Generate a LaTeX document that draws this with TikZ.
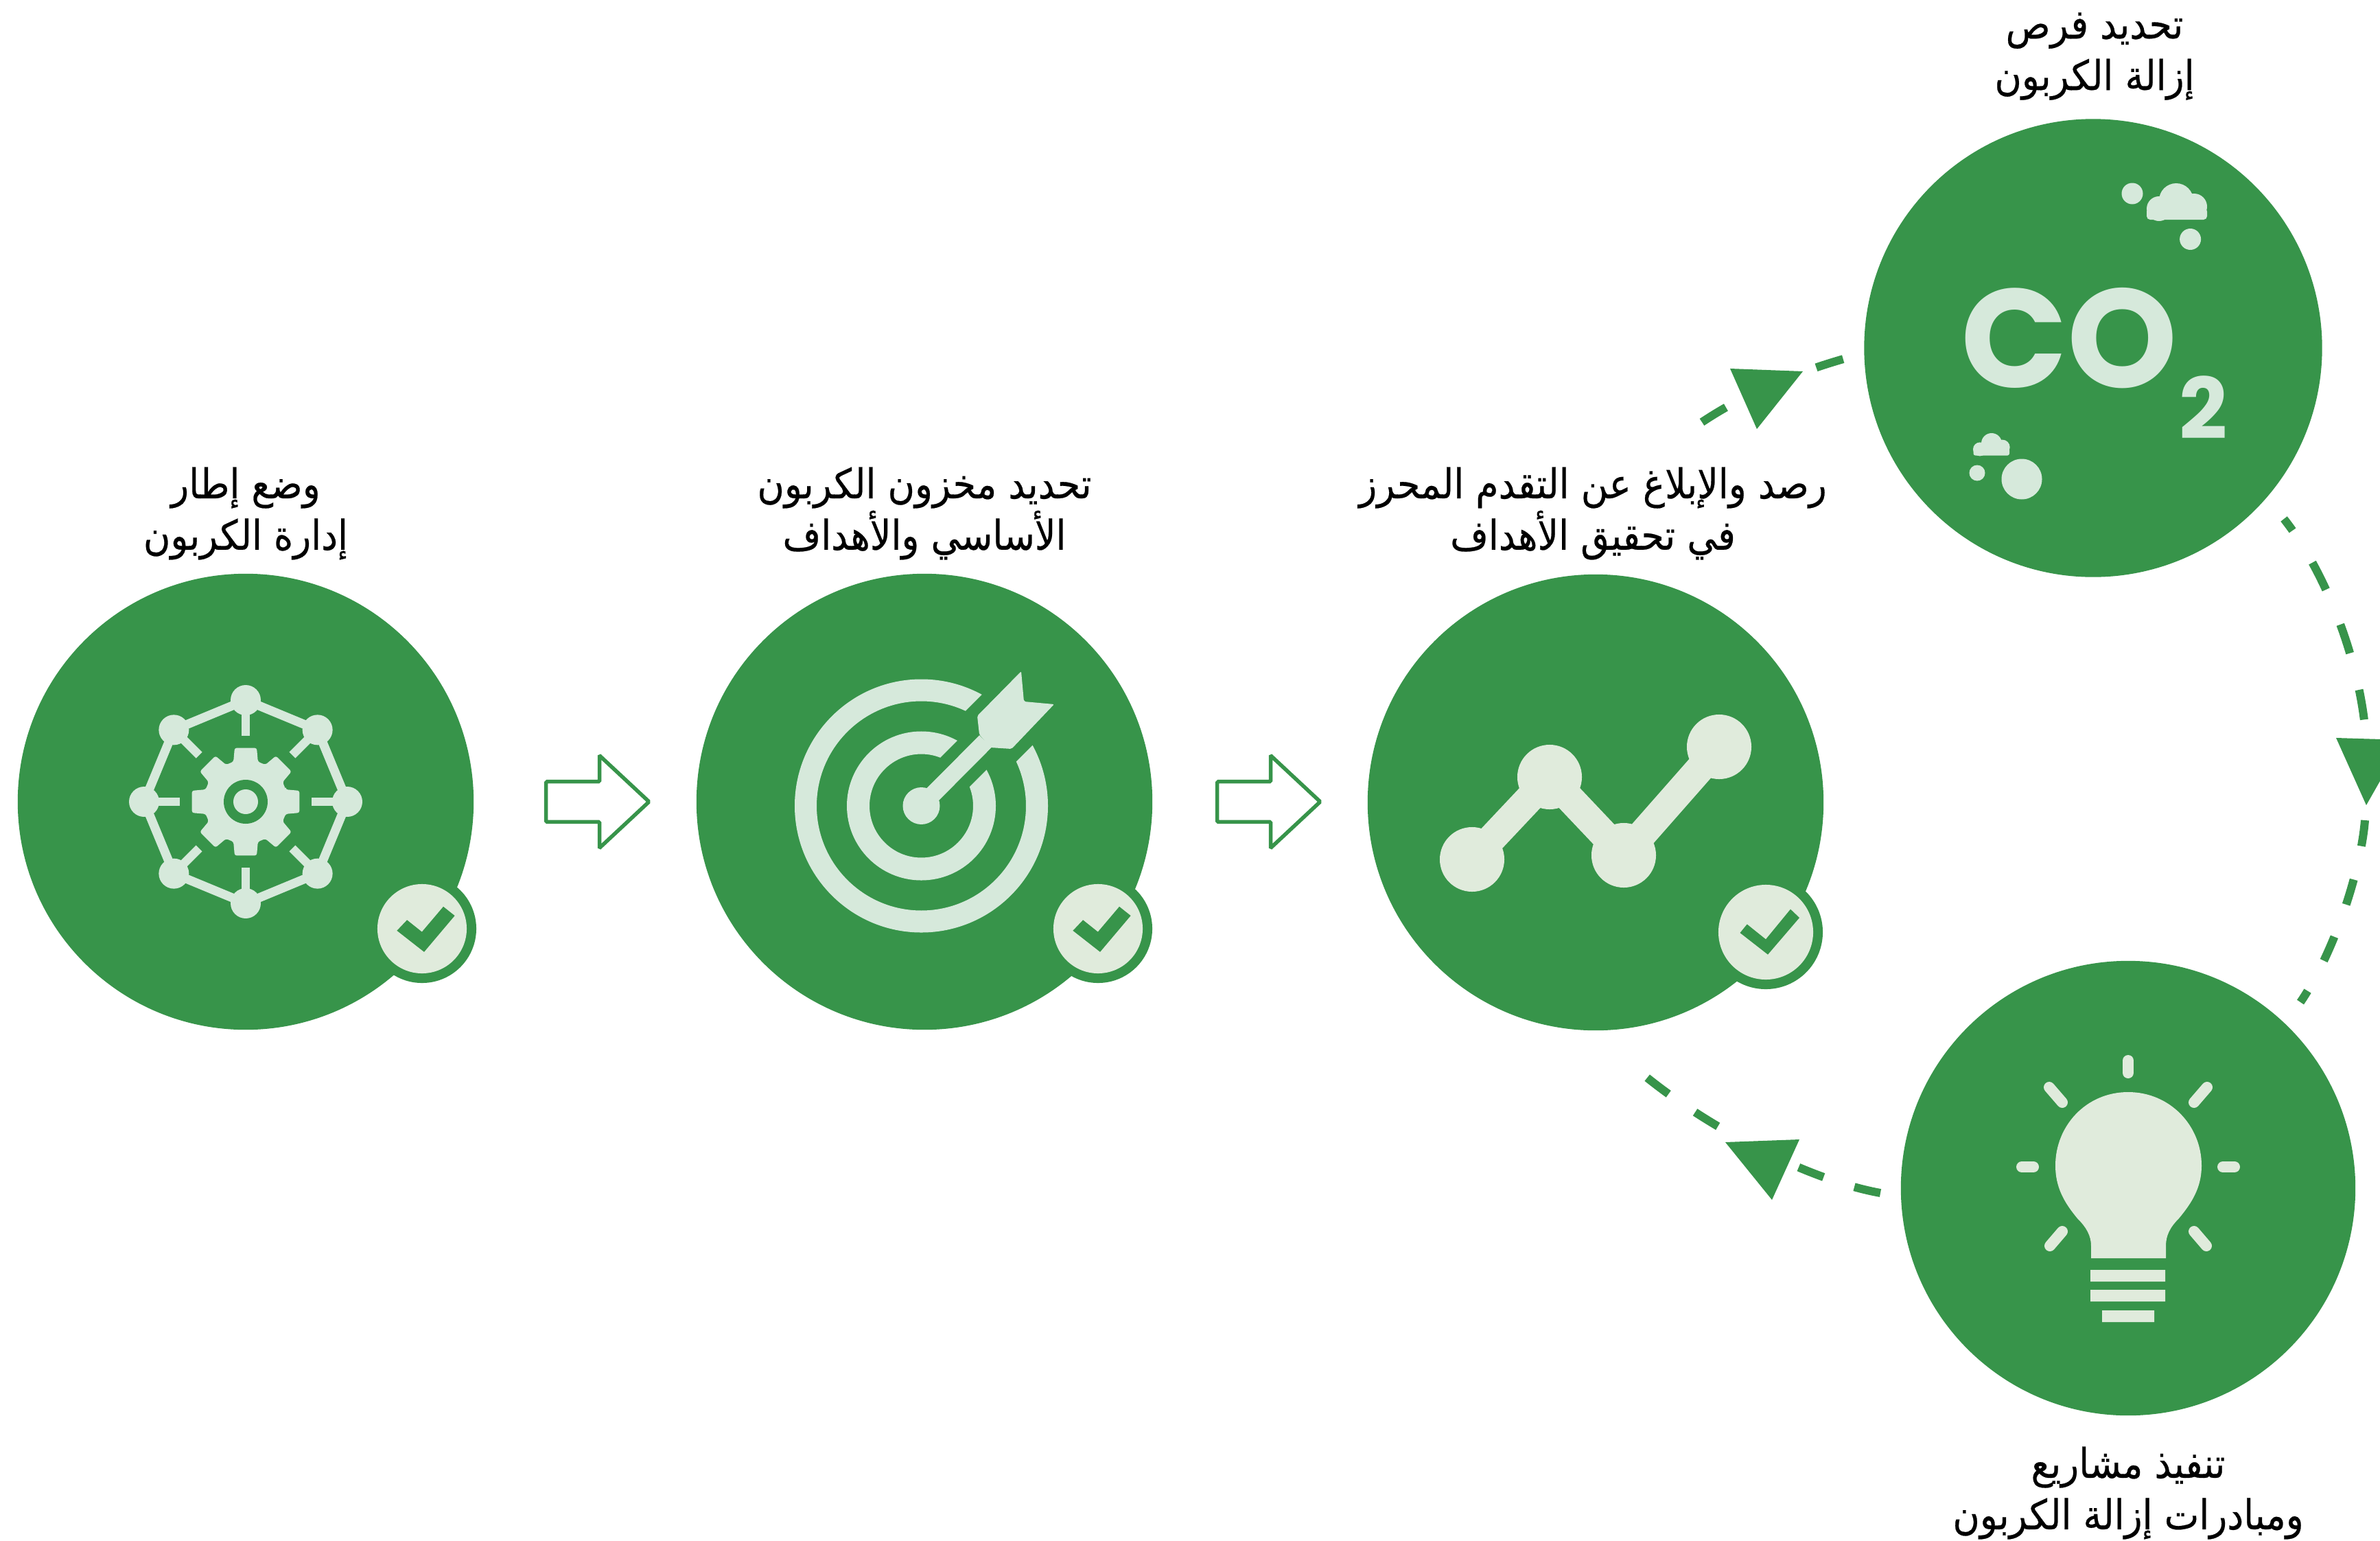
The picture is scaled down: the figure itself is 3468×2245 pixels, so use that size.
\documentclass[tikz,border=0pt]{standalone}
\usepackage{fontspec}
\usetikzlibrary{calc,shapes.arrows}
\TeXXeTstate=1
\newfontfamily\arabicfont[Script=Arabic,FakeStretch=0.9,FakeBold=0.4]{DejaVu Sans}
\newfontfamily\bigfont{Poppins}
\definecolor{leaf}{RGB}{55,148,74}
\definecolor{mist}{RGB}{214,233,219}
\definecolor{pale}{RGB}{224,235,220}

\begin{document}
\begin{tikzpicture}[x=0.01cm,y=-0.01cm]
       \tikzstyle{disc} = [circle, fill=leaf, inner sep=0, minimum size=6.64cm];
       \tikzstyle{ring} = [circle, fill=leaf, inner sep=0, minimum size=1.58cm];
       \tikzstyle{tick} = [circle, fill=pale, inner sep=0, minimum size=1.30cm];
       \tikzstyle{caption} = [align=center, inner sep=0, font=\arabicfont\fontsize{17}{21.3}\selectfont];
       \tikzstyle{hollow} = [single arrow, draw=leaf, line width=0.055cm, rounded corners=0.015cm, inner xsep=0, inner ysep=0.265cm, minimum height=1.5cm, single arrow head extend=0.38cm, single arrow tip angle=86];
       \tikzstyle{dots} = [circle, fill=pale, inner sep=0, minimum size=0.94cm];
       \tikzstyle{ray} = [draw=pale, line width=0.16cm, line cap=round];
       \tikzstyle{flow} = [draw=leaf, line width=0.12cm];

       \useasboundingbox (0,0) rectangle (3468,2245);

       \node[disc] (frame) at (358,1168) {};
       \node[disc] (target) at (1347,1168) {};
       \node[disc] (chart) at (2325,1169) {};
       \node[disc, minimum size=6.67cm] (cotwo) at (3050,507) {};
       \node[disc, minimum size=6.62cm] (bulb) at (3101,1731) {};

       \node[caption] (frametext) at (358,748) {\beginR وضع إطار\endR\\\beginR إدارة الكربون\endR};
       \node[caption] (targettext) at (1347,748) {\beginR تحديد مخزون الكربون\endR\\\beginR الأساسي والأهداف\endR};
       \node[caption] (charttext) at (2321,748) {\beginR رصد والإبلاغ عن التقدم المحرز\endR\\\beginR في تحقيق الأهداف\endR};
       \node[caption] (cotwotext) at (3052,82) {\beginR تحديد فرص\endR\\\beginR إزالة الكربون\endR};
       \node[caption] (bulbtext) at (3101,2175) {\beginR تنفيذ مشاريع\endR\\\beginR ومبادرات إزالة الكربون\endR};

       \node[hollow] (stepa) at (855,1168) {};
       \node[hollow] (stepb) at (1833,1168) {};

       % badges
       \node[ring] (ringa) at (615,1353) {};
       \node[tick] (ticka) at (615,1353) {};
       \node[ring] (ringb) at (1600,1353) {};
       \node[tick] (tickb) at (1600,1353) {};
       \node[ring, minimum size=1.66cm] (ringc) at (2573,1358) {};
       \node[tick, minimum size=1.38cm] (tickc) at (2573,1358) {};
       \foreach \cx in {615,1600}
         \fill[leaf, shift={(\cx,1353)}] (-36.6,2.8) -- (-21.9,-12.7) -- (-0.2,4.6) -- (31,-32.2) -- (47.6,-19) -- (3,33.8) -- cycle;
       \fill[leaf, shift={(2573,1358)}] (-37.5,1) -- (-27.3,-11.5) -- (0,10.4) -- (36,-33.4) -- (49,-21) -- (3,32.6) -- cycle;

       % gear and network
       \begin{scope}[shift={(358,1168)}]
       \foreach \a in {0,45,...,315} {
         \draw[mist, line width=0.13cm] (\a:148) -- (\a+45:148);
         \draw[mist, line width=0.125cm] (\a:148) -- (\a:96);
         \fill[mist] (\a:148) circle (22);
       }
       \fill[mist, rounded corners=0.03cm] (-17:61) \foreach \a in {0,45,...,315} { -- (\a-17:61) -- (\a-11.6:80) -- (\a+11.6:80) -- (\a+17:61) } -- cycle;
       \fill[leaf] (0,0) circle (32);
       \fill[mist] (0,0) circle (18);
       \end{scope}

       % dartboard
       \draw[mist, line width=0.32cm] (1342.5,1174) circle (168.5);
       \draw[leaf, line width=1.04cm] (1342.5,1174) -- +(160,-160);
       \draw[mist, line width=0.33cm] (1342.5,1174) circle (92);
       \draw[leaf, line width=0.60cm] (1342.5,1174) -- +(95,-95);
       \fill[mist] (1342.5,1174) circle (27);
       \draw[mist, line width=0.25cm] (1342.5,1174) -- (1436,1080);
       \fill[mist, rounded corners=0.02cm] (1424,1043) -- (1488,978) -- (1492,1022) -- (1536,1026) -- (1474,1091) -- (1443,1089) -- (1427,1070) -- cycle;

       % trend
       \node[dots] (pta) at (2145,1252) {};
       \node[dots] (ptb) at (2258,1132) {};
       \node[dots] (ptc) at (2366,1246) {};
       \node[dots] (ptd) at (2505,1088) {};
       \draw[pale, line width=0.42cm] (pta.center) -- (ptb.center) -- (ptc.center) -- (ptd.center);

       % co2
       \node[inner sep=0, text=mist, font=\bigfont\bfseries\fontsize{58}{58}\selectfont] (cosign) at (3015,493) {CO};
       \node[inner sep=0, text=mist, font=\bigfont\bfseries\fontsize{35}{35}\selectfont] (twosign) at (3211,594) {2};
       \fill[mist] (3171,292) circle (25) (3146,304) circle (18) (3197,301) circle (19);
       \fill[mist, rounded corners=0.05cm] (3128,303) rectangle (3216,320);
       \fill[mist] (3107,282) circle (15.5) (3191.6,348.5) circle (15.5);
       \fill[mist] (2902,646) circle (15) (2885,654.4) circle (10) (2917.7,651.6) circle (11);
       \fill[mist, rounded corners=0.03cm] (2875.5,653) rectangle (2928,663.6);
       \fill[mist] (2881,689) circle (11.5) (2946,698) circle (29.5);

       % lamp
       \fill[pale] (3047,1833) -- (3047,1815) .. controls (3047,1800) and (3040,1788) .. (3027,1775) .. controls (3008,1752) and (2995,1730) .. (2995,1698) .. controls (2995,1640) and (3040,1591) .. (3101,1591) .. controls (3162,1591) and (3208,1640) .. (3208,1698) .. controls (3208,1730) and (3194,1752) .. (3175,1775) .. controls (3162,1788) and (3156,1800) .. (3156,1815) -- (3156,1833) -- cycle;
       \fill[pale] (3046,1850) rectangle (3155,1867) (3046,1879) rectangle (3155,1896) (3063,1909) rectangle (3139,1926);
       \draw[ray] (3101,1545) -- (3101,1563);
       \draw[ray] (3197,1606) -- (3216,1584);
       \draw[ray] (3005,1606) -- (2986,1584);
       \draw[ray] (3239,1700) -- (3256,1700);
       \draw[ray] (2963,1700) -- (2946,1700);
       \draw[ray] (3197,1794) -- (3215,1815);
       \draw[ray] (3005,1794) -- (2987,1815);

       % dashed loop
       \coordinate (upa) at (2480,615);
       \coordinate (upb) at (2686,523);
       \coordinate (rima) at (3328,756);
       \coordinate (rimb) at (3445,1049.5);
       \coordinate (rimc) at (3446,1195);
       \coordinate (rimd) at (3352,1460);
       \coordinate (backa) at (2740,1738);
       \coordinate (backb) at (2400,1570);
       \draw[flow, dash pattern=on 0.41cm off 1.44cm] (upa) .. controls (2540,575) and (2610,545) .. (upb);
       \draw[flow, dash pattern=on 0.44cm off 0.55cm, dash phase=0.23cm] (rima) .. controls (3375,815) and (3430,930) .. (rimb);
       \draw[flow, dash pattern=on 0.38cm off 0.50cm] (rimc) .. controls (3440,1270) and (3400,1390) .. (rimd);
       \draw[flow, dash pattern=on 0.39cm off 0.47cm on 0.39cm off 1.32cm] (backa) .. controls (2640,1720) and (2500,1650) .. (backb);
       \fill[leaf] (2521,537) -- (2627,541) -- (2560,625) -- cycle;
       \fill[leaf] (3404,1075) -- (3502,1078) -- (3448,1173) -- cycle;
       \fill[leaf] (2622,1660) -- (2514,1664) -- (2582,1748) -- cycle;
\end{tikzpicture}
\end{document}
